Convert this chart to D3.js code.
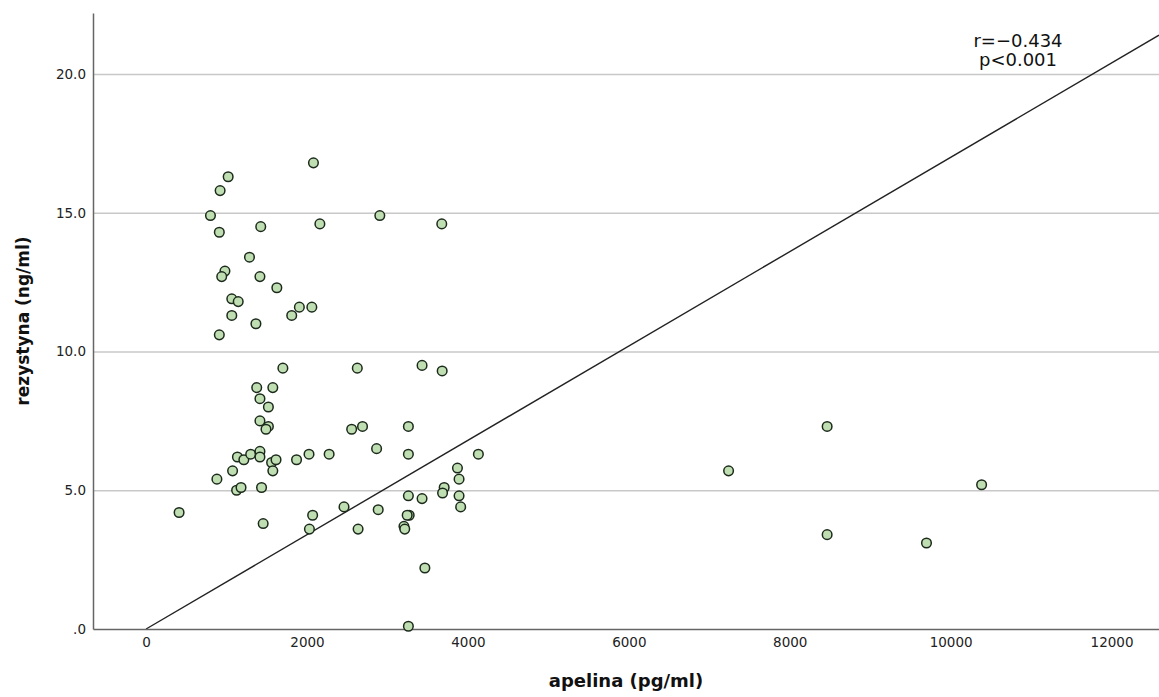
<!DOCTYPE html>
<html>
<head>
<meta charset="utf-8">
<script src="https://cdn.jsdelivr.net/npm/d3@7"></script>
<style>
  body { margin: 0; background: #fff; }
  .tick text { font-family: "DejaVu Sans", sans-serif; font-size: 13.5px; fill: #222; }
  .title { font-family: "DejaVu Sans", sans-serif; font-weight: bold; font-size: 17px; fill: #111; }
  .note { font-family: "DejaVu Sans", sans-serif; font-size: 18px; fill: #111; }
</style>
</head>
<body>
<div id="ChartView"><svg width="1159" height="697"></svg></div>
<script>
// apelina (pg/ml) and rezystyna (ng/ml), one entry per patient
var apelina = [
  2080, 1020, 920, 800, 910, 1425, 2160, 1285, 980, 940,
  1415, 1625, 1065, 1145, 1065, 1365, 910, 1810, 1905, 2060,
  2905, 3675, 1700, 1375, 1575, 1415, 1520, 1415, 1520, 1490,
  1135, 1215, 1300, 1415, 1415, 1560, 1615, 1575, 1870, 2025,
  2275, 1075, 880, 1125, 1180, 1435, 410, 1455, 2070, 2030,
  2625, 3430, 3680, 2555, 2690, 3260, 2865, 3260, 4130, 3870,
  3890, 3705, 3685, 3260, 3430, 3890, 3910, 2460, 2885, 3270,
  3245, 2635, 3205, 3215, 3465, 3260, 7240, 8465, 8465, 9700,
  10385
];
var rezystyna = [
  16.8, 16.3, 15.8, 14.9, 14.3, 14.5, 14.6, 13.4, 12.9, 12.7,
  12.7, 12.3, 11.9, 11.8, 11.3, 11.0, 10.6, 11.3, 11.6, 11.6,
  14.9, 14.6, 9.4, 8.7, 8.7, 8.3, 8.0, 7.5, 7.3, 7.2,
  6.2, 6.1, 6.3, 6.4, 6.2, 6.0, 6.1, 5.7, 6.1, 6.3,
  6.3, 5.7, 5.4, 5.0, 5.1, 5.1, 4.2, 3.8, 4.1, 3.6,
  9.4, 9.5, 9.3, 7.2, 7.3, 7.3, 6.5, 6.3, 6.3, 5.8,
  5.4, 5.1, 4.9, 4.8, 4.7, 4.8, 4.4, 4.4, 4.3, 4.1,
  4.1, 3.6, 3.7, 3.6, 2.2, 0.1, 5.7, 7.3, 3.4, 3.1,
  5.2
];

var xTicks = [0, 2000, 4000, 6000, 8000, 10000, 12000];
var yTicks = [0, 5, 10, 15, 20];
var yTickLabels = [".0", "5.0", "10.0", "15.0", "20.0"];

// fit line as drawn, from its start to the right edge
var fitX = [0, 12590];
var fitY = [0, 21.4];

var noteLines = ["r=\u22120.434", "p<0.001"];

class ScatterChart {

    constructor(xs, ys) {
        this.xs = xs;
        this.ys = ys;
        this.left = 93;
        this.right = 1159;
        this.top = 13;
        this.bottom = 629;
    }

    /**
     * draws axes, grid, fit line,
     * points and the r / p note.
     */
    createChart() {
        var svg = d3.select("#ChartView").select("svg");

        var x = d3.scaleLinear().domain([-660, 12590]).range([this.left, this.right]);
        var y = d3.scaleLinear().domain([0, 22.2]).range([this.bottom, this.top]);

        // horizontal grid
        svg.append("g")
            .attr("transform", "translate(" + this.left + ",0)")
            .call(d3.axisLeft(y).tickValues(yTicks.slice(1)).tickSize(-(this.right - this.left)).tickFormat(""))
            .call(g => g.select(".domain").remove())
            .call(g => g.selectAll("line").attr("stroke", "#c8c8c8").attr("stroke-width", 1.5));

        // fit line
        var line = d3.line().x(d => x(d[0])).y(d => y(d[1]));
        svg.append("path")
            .datum(d3.zip(fitX, fitY))
            .attr("d", line)
            .attr("fill", "none")
            .attr("stroke", "#222")
            .attr("stroke-width", 1.4);

        // axes
        svg.append("g")
            .attr("transform", "translate(0," + this.bottom + ")")
            .call(d3.axisBottom(x).tickValues(xTicks).tickSize(0).tickSizeOuter(0).tickPadding(8).tickFormat(d3.format("d")))
            .call(g => g.select(".domain").attr("stroke", "#666").attr("stroke-width", 1.5));

        svg.append("g")
            .attr("transform", "translate(" + this.left + ",0)")
            .call(d3.axisLeft(y).tickValues(yTicks).tickSize(0).tickSizeOuter(0).tickPadding(7)
                .tickFormat((d, i) => yTickLabels[i]))
            .call(g => g.select(".domain").attr("stroke", "#666").attr("stroke-width", 1.5));

        // points
        svg.append("g")
            .selectAll("circle")
            .data(d3.zip(this.xs, this.ys))
            .enter().append("circle")
            .attr("cx", d => x(d[0]))
            .attr("cy", d => y(d[1]))
            .attr("r", 4.8)
            .attr("fill", "#bfdeb1")
            .attr("stroke", "#1c2a1c")
            .attr("stroke-width", 1.5);

        // titles
        svg.append("text")
            .attr("class", "title")
            .attr("x", (this.left + this.right) / 2)
            .attr("y", 687)
            .attr("text-anchor", "middle")
            .style("font-size", "18px")
            .text("apelina (pg/ml)");

        svg.append("text")
            .attr("class", "title")
            .attr("transform", "translate(29," + (this.top + this.bottom) / 2 + ") rotate(-90)")
            .attr("text-anchor", "middle")
            .text("rezystyna (ng/ml)");

        svg.selectAll(".note")
            .data(noteLines)
            .enter().append("text")
            .attr("class", "note")
            .attr("x", 1018)
            .attr("y", (d, i) => 47 + i * 19)
            .attr("text-anchor", "middle")
            .text(d => d);
    }
}

var chart = new ScatterChart(apelina, rezystyna);
chart.createChart();
</script>
</body>
</html>
